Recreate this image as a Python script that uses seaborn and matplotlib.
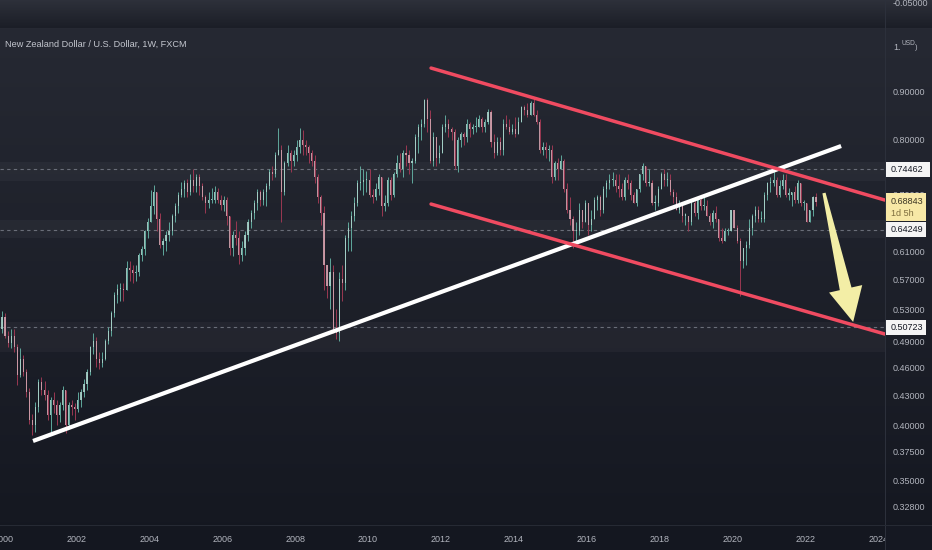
import numpy as np
import pandas as pd
import matplotlib
matplotlib.use("Agg")
import matplotlib.pyplot as plt
import seaborn as sns
from matplotlib.patches import Polygon, Rectangle
from matplotlib.transforms import IdentityTransform
from matplotlib.ticker import FuncFormatter, NullLocator, FixedLocator

# ---------------- data (monthly NZD/USD) ----------------
start_month = "1999-10"
first_open = 0.510
close = [
    0.500, 0.505, 0.520,
    0.497, 0.488, 0.497, 0.484, 0.452, 0.470, 0.455, 0.433, 0.405, 0.400, 0.418, 0.444,
    0.436, 0.430, 0.410, 0.425, 0.420, 0.410, 0.420, 0.435, 0.400, 0.420, 0.418, 0.416,
    0.425, 0.433, 0.442, 0.455, 0.483, 0.490, 0.470, 0.465, 0.470, 0.490, 0.502, 0.525,
    0.548, 0.556, 0.557, 0.555, 0.585, 0.583, 0.578, 0.580, 0.605, 0.613, 0.640, 0.655,
    0.680, 0.705, 0.660, 0.620, 0.625, 0.635, 0.640, 0.665, 0.680, 0.700, 0.710, 0.720,
    0.705, 0.725, 0.715, 0.730, 0.715, 0.695, 0.685, 0.690, 0.690, 0.705, 0.690, 0.683,
    0.690, 0.665, 0.615, 0.635, 0.630, 0.605, 0.615, 0.635, 0.655, 0.670, 0.685, 0.705,
    0.690, 0.705, 0.715, 0.740, 0.735, 0.770, 0.780, 0.705, 0.755, 0.775, 0.760, 0.770,
    0.785, 0.800, 0.790, 0.785, 0.775, 0.760, 0.730, 0.695, 0.670, 0.590, 0.560, 0.580,
    0.505, 0.500, 0.570, 0.565, 0.630, 0.645, 0.665, 0.685, 0.720, 0.722, 0.725, 0.725,
    0.700, 0.695, 0.710, 0.730, 0.680, 0.685, 0.725, 0.700, 0.735, 0.755, 0.745, 0.775,
    0.770, 0.755, 0.760, 0.805, 0.825, 0.830, 0.880, 0.840, 0.760, 0.805, 0.765, 0.775,
    0.825, 0.830, 0.820, 0.815, 0.750, 0.800, 0.810, 0.805, 0.830, 0.820, 0.825, 0.825,
    0.840, 0.825, 0.835, 0.855, 0.795, 0.775, 0.795, 0.780, 0.830, 0.825, 0.815, 0.820,
    0.810, 0.835, 0.865, 0.860, 0.850, 0.875, 0.850, 0.835, 0.780, 0.785, 0.780, 0.780,
    0.730, 0.755, 0.745, 0.760, 0.710, 0.675, 0.660, 0.640, 0.640, 0.675, 0.655, 0.685,
    0.650, 0.660, 0.690, 0.695, 0.675, 0.710, 0.720, 0.725, 0.725, 0.715, 0.710, 0.695,
    0.725, 0.720, 0.700, 0.685, 0.710, 0.735, 0.750, 0.720, 0.720, 0.685, 0.685, 0.710,
    0.735, 0.725, 0.725, 0.705, 0.695, 0.675, 0.680, 0.665, 0.665, 0.655, 0.685, 0.670,
    0.690, 0.680, 0.680, 0.665, 0.655, 0.670, 0.660, 0.630, 0.625, 0.640, 0.640, 0.675,
    0.645, 0.625, 0.595, 0.615, 0.620, 0.645, 0.665, 0.675, 0.660, 0.660, 0.700, 0.720,
    0.720, 0.725, 0.700, 0.715, 0.725, 0.700, 0.700, 0.705, 0.690, 0.720, 0.685, 0.685,
    0.655, 0.675, 0.695, 0.688,
]
high = [
    0.515, 0.520, 0.527,
    0.525, 0.503, 0.505, 0.505, 0.487, 0.482, 0.474, 0.458, 0.438, 0.411, 0.423, 0.447,
    0.450, 0.445, 0.435, 0.428, 0.433, 0.425, 0.423, 0.440, 0.435, 0.423, 0.425, 0.422,
    0.433, 0.437, 0.447, 0.458, 0.485, 0.500, 0.495, 0.478, 0.478, 0.493, 0.508, 0.528,
    0.552, 0.563, 0.565, 0.565, 0.595, 0.595, 0.590, 0.590, 0.608, 0.618, 0.642, 0.662,
    0.708, 0.716, 0.705, 0.670, 0.630, 0.640, 0.655, 0.668, 0.685, 0.705, 0.722, 0.725,
    0.727, 0.735, 0.745, 0.735, 0.735, 0.720, 0.700, 0.705, 0.712, 0.715, 0.712, 0.700,
    0.697, 0.695, 0.665, 0.640, 0.657, 0.640, 0.625, 0.640, 0.660, 0.675, 0.690, 0.710,
    0.707, 0.710, 0.720, 0.745, 0.750, 0.777, 0.822, 0.790, 0.760, 0.790, 0.780, 0.780,
    0.800, 0.822, 0.818, 0.800, 0.790, 0.780, 0.770, 0.735, 0.700, 0.680, 0.590, 0.600,
    0.590, 0.530, 0.580, 0.590, 0.635, 0.655, 0.672, 0.695, 0.725, 0.750, 0.745, 0.742,
    0.745, 0.710, 0.720, 0.735, 0.725, 0.700, 0.730, 0.730, 0.740, 0.770, 0.775, 0.780,
    0.790, 0.780, 0.765, 0.810, 0.830, 0.840, 0.882, 0.884, 0.860, 0.815, 0.800, 0.790,
    0.830, 0.850, 0.840, 0.825, 0.820, 0.805, 0.815, 0.815, 0.840, 0.835, 0.830, 0.845,
    0.850, 0.845, 0.840, 0.862, 0.860, 0.810, 0.805, 0.805, 0.840, 0.850, 0.840, 0.830,
    0.845, 0.845, 0.868, 0.870, 0.875, 0.878, 0.884, 0.860, 0.840, 0.795, 0.795, 0.790,
    0.790, 0.760, 0.765, 0.770, 0.763, 0.720, 0.695, 0.665, 0.655, 0.685, 0.670, 0.690,
    0.685, 0.675, 0.695, 0.700, 0.700, 0.715, 0.725, 0.735, 0.740, 0.735, 0.735, 0.720,
    0.730, 0.735, 0.725, 0.705, 0.710, 0.735, 0.755, 0.750, 0.745, 0.725, 0.700, 0.715,
    0.740, 0.745, 0.740, 0.735, 0.710, 0.705, 0.690, 0.685, 0.670, 0.665, 0.690, 0.695,
    0.695, 0.695, 0.695, 0.690, 0.670, 0.675, 0.680, 0.660, 0.645, 0.645, 0.645, 0.675,
    0.675, 0.650, 0.630, 0.615, 0.625, 0.660, 0.668, 0.680, 0.680, 0.672, 0.705, 0.722,
    0.730, 0.744, 0.730, 0.725, 0.735, 0.735, 0.712, 0.705, 0.715, 0.725, 0.720, 0.690,
    0.685, 0.675, 0.698, 0.703,
]
low = [
    0.495, 0.495, 0.500,
    0.494, 0.484, 0.482, 0.478, 0.441, 0.449, 0.451, 0.428, 0.401, 0.390, 0.393, 0.413,
    0.430, 0.425, 0.405, 0.392, 0.412, 0.400, 0.403, 0.415, 0.392, 0.398, 0.410, 0.405,
    0.413, 0.418, 0.428, 0.436, 0.452, 0.475, 0.460, 0.458, 0.460, 0.468, 0.487, 0.497,
    0.520, 0.538, 0.540, 0.540, 0.555, 0.567, 0.565, 0.568, 0.575, 0.596, 0.605, 0.630,
    0.655, 0.668, 0.640, 0.615, 0.605, 0.610, 0.625, 0.635, 0.655, 0.670, 0.695, 0.695,
    0.695, 0.700, 0.705, 0.705, 0.700, 0.690, 0.670, 0.677, 0.685, 0.685, 0.685, 0.675,
    0.672, 0.650, 0.605, 0.603, 0.620, 0.592, 0.595, 0.605, 0.625, 0.645, 0.660, 0.675,
    0.680, 0.682, 0.680, 0.710, 0.725, 0.730, 0.770, 0.655, 0.700, 0.750, 0.740, 0.750,
    0.760, 0.775, 0.770, 0.770, 0.755, 0.750, 0.720, 0.685, 0.650, 0.555, 0.545, 0.530,
    0.500, 0.493, 0.490, 0.540, 0.555, 0.610, 0.610, 0.657, 0.680, 0.708, 0.700, 0.705,
    0.695, 0.685, 0.690, 0.700, 0.665, 0.672, 0.680, 0.690, 0.695, 0.730, 0.740, 0.730,
    0.750, 0.735, 0.720, 0.755, 0.775, 0.800, 0.825, 0.815, 0.755, 0.750, 0.750, 0.755,
    0.775, 0.815, 0.805, 0.800, 0.745, 0.740, 0.785, 0.790, 0.795, 0.805, 0.810, 0.815,
    0.825, 0.815, 0.815, 0.830, 0.785, 0.765, 0.770, 0.770, 0.770, 0.820, 0.810, 0.810,
    0.805, 0.810, 0.835, 0.850, 0.845, 0.850, 0.848, 0.830, 0.775, 0.770, 0.765, 0.760,
    0.720, 0.725, 0.725, 0.745, 0.705, 0.670, 0.650, 0.615, 0.625, 0.635, 0.645, 0.655,
    0.635, 0.640, 0.660, 0.675, 0.665, 0.670, 0.695, 0.710, 0.715, 0.705, 0.695, 0.690,
    0.690, 0.710, 0.690, 0.685, 0.680, 0.705, 0.725, 0.715, 0.715, 0.682, 0.675, 0.680,
    0.710, 0.715, 0.715, 0.700, 0.685, 0.675, 0.670, 0.655, 0.650, 0.640, 0.650, 0.665,
    0.660, 0.675, 0.675, 0.665, 0.650, 0.645, 0.655, 0.625, 0.623, 0.625, 0.635, 0.640,
    0.645, 0.622, 0.547, 0.585, 0.590, 0.615, 0.635, 0.655, 0.655, 0.655, 0.655, 0.690,
    0.705, 0.715, 0.695, 0.695, 0.710, 0.695, 0.690, 0.680, 0.685, 0.685, 0.680, 0.675,
    0.655, 0.655, 0.665, 0.680,
]

# drawings (year, price)
support_x = [2000.81, 2022.98]
support_y = [0.3848, 0.7875]
chan_top_x = [2011.73, 2024.18]
chan_top_y = [0.9516, 0.6907]
chan_bot_x = [2011.73, 2024.18]
chan_bot_y = [0.6840, 0.4989]
arrow_from = (2022.51, 0.7026)
arrow_to = (2023.31, 0.5137)

levels = [0.74462, 0.64249, 0.50723]
level_bands = [(0.7233, 0.7575), (0.630, 0.658), (0.478, 0.5137)]
last_price = 0.68843
countdown = "1d 5h"

price_ticks = [0.90, 0.80, 0.70, 0.61, 0.57, 0.53, 0.49, 0.46, 0.43, 0.40, 0.375, 0.35, 0.328]
year_ticks = list(range(2000, 2025, 2))
title = "New Zealand Dollar / U.S. Dollar, 1W, FXCM"

# ---------------- figure ----------------
sns.set_theme(style="dark")
plt.rcParams["font.family"] = ["Liberation Sans", "DejaVu Sans"]
FS = 6.5

W, H = 932, 550
fig = plt.figure(figsize=(W / 100, H / 100), dpi=100)
fig.patch.set_facecolor("#171a24")

# background gradient
bg = fig.add_axes([0, 0, 1, 1])
bg.set_axis_off()
bg.set_zorder(-10)
img = np.zeros((H, 1, 3))
c_top0, c_top1 = np.array([45, 48, 58]), np.array([27, 30, 39])
c_m0, c_m1 = np.array([38, 41, 51]), np.array([20, 23, 32])
for r in range(H):
    if r < 28:
        t = r / 27
        img[r, 0] = c_top0 * (1 - t) + c_top1 * t
    else:
        t = (r - 28) / (H - 28)
        img[r, 0] = c_m0 * (1 - t) + c_m1 * t
bg.imshow(img / 255, aspect="auto", extent=[0, 1, 0, 1])
bg.set_xlim(0, 1)
bg.set_ylim(0, 1)

ax = fig.add_axes([0, 25 / H, 885 / W, 497 / H])
ax.set_facecolor("none")
ax.set_yscale("log")
ax.set_xlim(1999.904, 2024.184)
ax.set_ylim(0.3138, 1.0488)
for s in ax.spines.values():
    s.set_visible(False)
ax.grid(False)

# candles
periods = pd.period_range(start_month, periods=len(close), freq="M")
xs = np.array([p.year + (p.month - 0.5) / 12 for p in periods])
c = np.array(close)
o = np.concatenate([[first_open], c[:-1]])
hi = np.maximum(np.array(high), np.maximum(o, c))
lo = np.minimum(np.array(low), np.minimum(o, c))
up = c >= o
wick_cols = np.where(up, "#5fa89c", "#9a3852")
body_cols = np.where(up, "#a9d2ca", "#d2a1ad")
ax.vlines(xs, lo, hi, colors=wick_cols, lw=0.7, zorder=3)
body_h = np.maximum(np.abs(c - o), 0.002)
ax.bar(xs, body_h, bottom=np.minimum(o, c), width=0.03, color=body_cols,
       linewidth=0, alpha=0.9, zorder=4)

# levels
for (b0, b1) in level_bands:
    ax.axhspan(b0, b1, color="white", alpha=0.035, lw=0, zorder=1)
for v in levels:
    ax.axhline(v, color="#6a6e79", lw=0.8, ls=(0, (3, 3)), zorder=2)

# trend lines
sns.lineplot(x=support_x, y=support_y, color="white", lw=3.0, ax=ax,
             solid_capstyle="butt", zorder=6)
sns.lineplot(x=chan_top_x, y=chan_top_y, color="#f04b61", lw=2.5, ax=ax, zorder=6)
sns.lineplot(x=chan_bot_x, y=chan_bot_y, color="#f04b61", lw=2.5, ax=ax, zorder=6)

# ticks
ax.yaxis.tick_right()
ax.yaxis.set_major_locator(FixedLocator(price_ticks))
ax.yaxis.set_minor_locator(NullLocator())
ax.yaxis.set_major_formatter(FuncFormatter(lambda v, p: f"{v:.5f}"))
ax.tick_params(axis="y", length=0, pad=5.8, labelsize=FS, labelcolor="#b2b5be")
ax.set_xticks(year_ticks)
ax.set_xticklabels([str(y) for y in year_ticks])
ax.tick_params(axis="x", length=0, pad=7.5, labelsize=FS, labelcolor="#b2b5be")
ax.set_xlabel("")
ax.set_ylabel("")

fig.canvas.draw()

def to_px(x, y):
    return ax.transData.transform((x, y))

# arrow (tapered) built in display space from data points
p0 = to_px(*arrow_from)
p1 = to_px(*arrow_to)
d = p1 - p0
L = np.hypot(*d)
u = d / L
n = np.array([-u[1], u[0]])
head_len, head_half, sh0, sh1 = 34, 17, 1.6, 6.0
base = p1 - u * head_len
verts = [p0 + n * sh0, base + n * sh1, base + n * head_half, p1,
         base - n * head_half, base - n * sh1, p0 - n * sh0]
ax.add_patch(Polygon(verts, closed=True, transform=IdentityTransform(),
                     fc="#f3eea6", ec="none", zorder=7, clip_on=False))

# separators
fig.add_artist(Rectangle((885, 0), 1, H, transform=IdentityTransform(),
                         fc="#2c303b", ec="none", zorder=2))
fig.add_artist(Rectangle((0, H - 526), W, 1, transform=IdentityTransform(),
                         fc="#262a34", ec="none", zorder=2))
# time axis cut under price scale
fig.add_artist(Rectangle((886, 0), W - 886, H - 526, transform=IdentityTransform(),
                         fc="#151822", ec="none", zorder=3))

# label boxes
def box_label(v, txt, fc, tc, x1=926, h=15):
    yy = to_px(2010, v)[1]
    fig.add_artist(Rectangle((886, yy - h / 2), x1 - 886, h, transform=IdentityTransform(),
                             fc=fc, ec="none", zorder=5))
    fig.text(891, yy, txt, transform=IdentityTransform(), color=tc, fontsize=FS,
             va="center", ha="left", zorder=6)

box_label(levels[0], f"{levels[0]:.5f}", "#f4f4f4", "#131722", x1=930)
box_label(levels[1], f"{levels[1]:.5f}", "#f4f4f4", "#131722")
box_label(levels[2], f"{levels[2]:.5f}", "#f4f4f4", "#131722")

yl = to_px(2010, last_price)[1]
fig.add_artist(Rectangle((886, yl - 20), 40, 28, transform=IdentityTransform(),
                         fc="#f7e8a6", ec="none", zorder=5))
fig.text(891, yl, f"{last_price:.5f}", transform=IdentityTransform(), color="#3b3524",
         fontsize=FS, va="center", ha="left", zorder=6)
fig.text(891, yl - 12, countdown, transform=IdentityTransform(), color="#7d6d3e",
         fontsize=FS, va="center", ha="left", zorder=6)

# top pane / currency labels
fig.text(893, H - 3, "-0.05000", transform=IdentityTransform(), color="#b2b5be",
         fontsize=FS, va="center", ha="left")
y1 = to_px(2010, 1.0)[1]
fig.text(893, y1, "1.", transform=IdentityTransform(), color="#b2b5be",
         fontsize=FS, va="center", ha="left")
fig.text(901, y1 + 4, "USD", transform=IdentityTransform(), color="#b2b5be",
         fontsize=4.8, va="center", ha="left")
fig.text(915, y1, ")", transform=IdentityTransform(), color="#b2b5be",
         fontsize=5.5, va="center", ha="left")

# title
fig.text(5, H - 44, title, transform=IdentityTransform(), color="#c3c6ce",
         fontsize=6.6, va="center", ha="left")

fig.savefig("out.png", dpi=100)
